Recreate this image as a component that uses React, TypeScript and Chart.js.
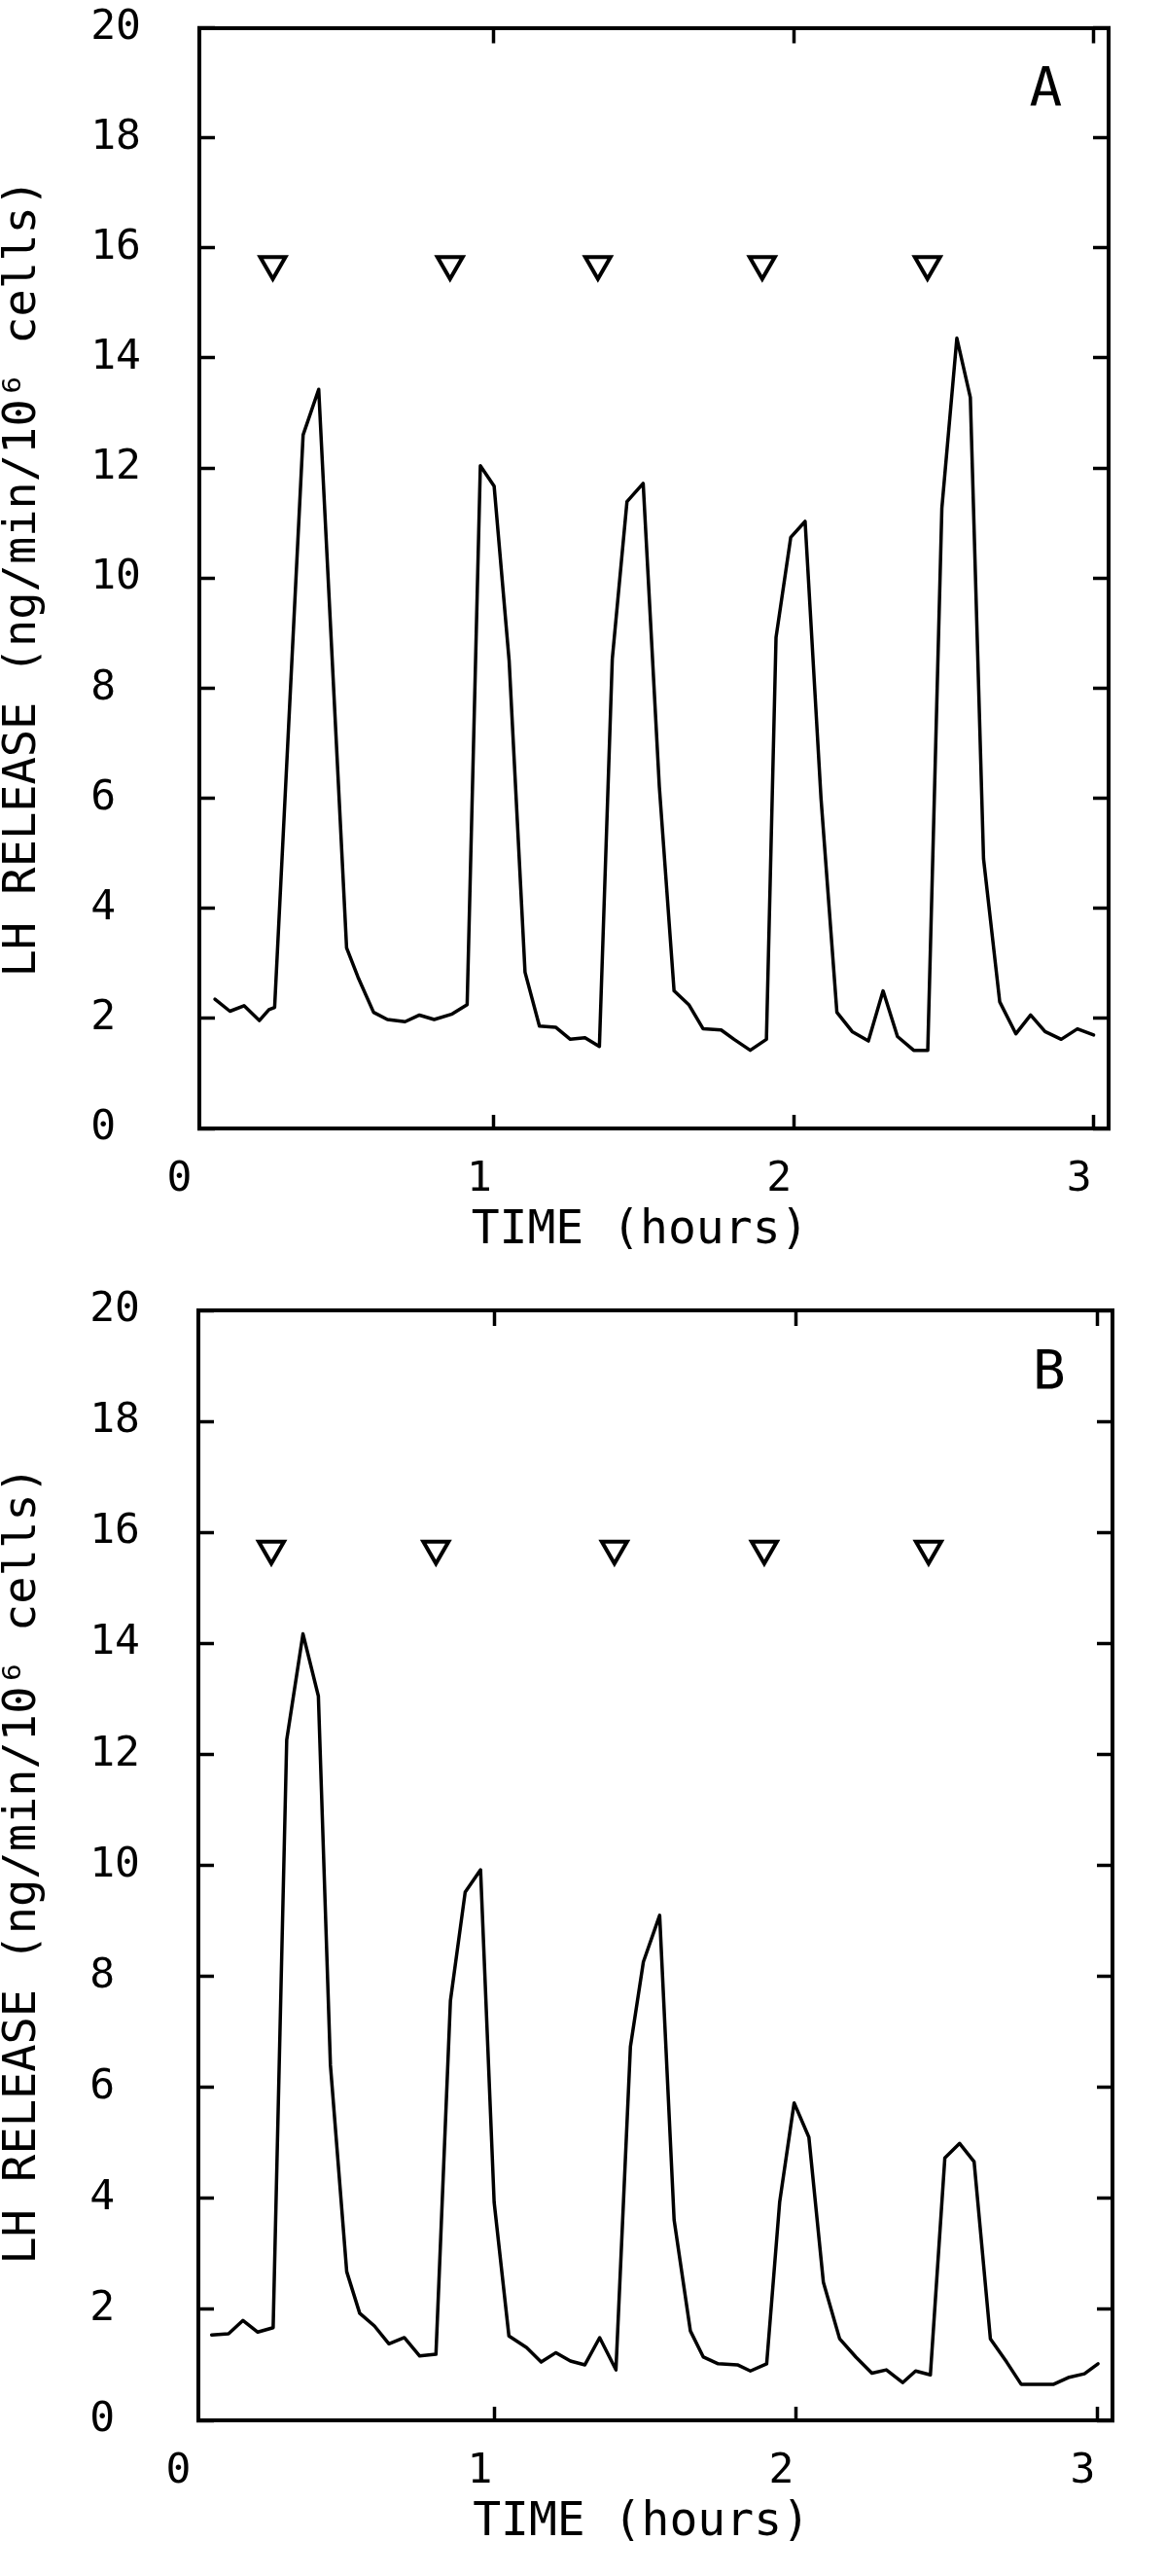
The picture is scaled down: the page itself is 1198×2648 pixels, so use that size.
import React, { useEffect, useRef } from "react";
import { Chart, registerables } from "chart.js";

Chart.register(...registerables);

// ---------- data ----------
const timesA = [
  0.070, 0.120, 0.167, 0.218, 0.250, 0.269, 0.364, 0.416, 0.509, 0.547,
  0.599, 0.645, 0.704, 0.752, 0.801, 0.861, 0.911, 0.955, 1.001, 1.051,
  1.104, 1.152, 1.206, 1.255, 1.304, 1.352, 1.395, 1.444, 1.498, 1.552,
  1.601, 1.650, 1.698, 1.758, 1.801, 1.855, 1.909, 1.941, 1.990, 2.038,
  2.091, 2.144, 2.195, 2.249, 2.298, 2.346, 2.400, 2.447, 2.494, 2.544,
  2.589, 2.633, 2.687, 2.741, 2.790, 2.838, 2.892, 2.946, 3.000,
];
const valuesA = [
  2.35, 2.13, 2.23, 1.96, 2.16, 2.20, 12.60, 13.43, 3.28, 2.75,
  2.11, 1.98, 1.94, 2.06, 1.98, 2.08, 2.25, 12.04, 11.67, 8.50,
  2.84, 1.86, 1.84, 1.62, 1.65, 1.49, 8.53, 11.39, 11.72, 6.20,
  2.50, 2.25, 1.81, 1.79, 1.62, 1.42, 1.62, 8.92, 10.74, 11.03,
  6.00, 2.11, 1.76, 1.59, 2.50, 1.67, 1.42, 1.42, 11.27, 14.36,
  13.28, 4.90, 2.30, 1.72, 2.06, 1.76, 1.62, 1.81, 1.70,
];

const timesB = [
  0.062, 0.118, 0.166, 0.215, 0.266, 0.311, 0.365, 0.416, 0.456, 0.510,
  0.553, 0.602, 0.650, 0.701, 0.752, 0.806, 0.854, 0.903, 0.954, 0.999,
  1.048, 1.107, 1.155, 1.204, 1.252, 1.300, 1.349, 1.403, 1.451, 1.494,
  1.548, 1.596, 1.650, 1.693, 1.742, 1.806, 1.849, 1.903, 1.946, 1.994,
  2.043, 2.091, 2.145, 2.199, 2.252, 2.300, 2.354, 2.397, 2.446, 2.494,
  2.543, 2.591, 2.645, 2.699, 2.747, 2.801, 2.855, 2.903, 2.957, 3.002,
];
const valuesB = [
  1.54, 1.56, 1.80, 1.59, 1.67, 12.26, 14.17, 13.05, 6.40, 2.68,
  1.93, 1.70, 1.38, 1.49, 1.16, 1.19, 7.56, 9.52, 9.92, 3.93,
  1.52, 1.31, 1.05, 1.22, 1.07, 1.00, 1.49, 0.91, 6.73, 8.26,
  9.10, 3.61, 1.61, 1.14, 1.02, 1.00, 0.89, 1.02, 3.93, 5.72,
  5.10, 2.49, 1.47, 1.14, 0.85, 0.91, 0.68, 0.89, 0.82, 4.73,
  4.99, 4.66, 1.47, 1.05, 0.65, 0.65, 0.65, 0.77, 0.84, 1.02,
];

const pulseTimesA = [0.263, 0.854, 1.347, 1.895, 2.446];
const pulseTimesB = [0.260, 0.806, 1.398, 1.895, 2.440];
const pulseLevel = 15.7;

const xTickValues = [0, 1, 2, 3];
const yTickValues = [0, 2, 4, 6, 8, 10, 12, 14, 16, 18, 20];

const X_TITLE = "TIME (hours) ";
const Y_TITLE = "LH RELEASE (ng/min/10⁶ cells)";

// ---------- layout ----------
const FONT = "'DejaVu Sans Mono', monospace";
const PAGE_W = 1198;
const X_MIN = 0.018;
const X_MAX = 3.05;
const Y_MIN = 0;
const Y_MAX = 20;
const LETTER_X = 2.84;
const LETTER_Y = 18.6;

type Geo = {
  top: number;
  height: number;
  plotTop: number;
  plotBottom: number;
  plotLeft: number;
  plotRight: number;
  titleBottomPad: number;
};

const geoA: Geo = { top: 0, height: 1300, plotTop: 28.5, plotBottom: 1160, plotLeft: 205, plotRight: 1140, titleBottomPad: 10 };
const geoB: Geo = { top: 1300, height: 1348, plotTop: 47, plotBottom: 1188, plotLeft: 204, plotRight: 1144, titleBottomPad: 30 };

const panelLetterPlugin = {
  id: "panelLetter",
  afterDatasetsDraw(chart: any, _args: any, opts: any) {
    const { ctx, scales } = chart;
    const px = scales.x.getPixelForValue(opts.x);
    const py = scales.y.getPixelForValue(opts.y);
    ctx.save();
    ctx.font = `56px ${FONT}`;
    ctx.fillStyle = "#000";
    ctx.textAlign = "center";
    ctx.textBaseline = "alphabetic";
    ctx.fillText(opts.text, px, py);
    ctx.restore();
  },
};

const tickColorHideZero = (c: any) => (c.tick && c.tick.value === 0 ? "rgba(0,0,0,0)" : "#000");

// plotter style: y labels are left-aligned in a two-character monospace field
const yLabel = (v: any) => (Number(v) < 10 ? `${v} ` : `${v}`);

const zeroPad = (s: any) => {
  s.paddingTop = 0;
  s.paddingBottom = 0;
  s.paddingLeft = 0;
  s.paddingRight = 0;
};

function Panel({ geo, times, values, pulses, letter }: { geo: Geo; times: number[]; values: number[]; pulses: number[]; letter: string }) {
  const ref = useRef<HTMLCanvasElement>(null);

  useEffect(() => {
    const canvas = ref.current;
    if (!canvas) return;
    const border = { display: true, color: "#000", width: 4 };
    const setXTicks = (s: any) => {
      s.ticks = xTickValues.map((v) => ({ value: v }));
    };
    const setYTicks = (s: any) => {
      s.ticks = yTickValues.map((v) => ({ value: v }));
    };
    const chart = new Chart(canvas, {
      type: "line",
      data: {
        datasets: [
          {
            data: times.map((t, i) => ({ x: t, y: values[i] })),
            xAxisID: "x",
            yAxisID: "y",
            borderColor: "#000",
            borderWidth: 3.5,
            borderJoinStyle: "round",
            borderCapStyle: "round",
            pointRadius: 0,
            tension: 0,
            fill: false,
          } as any,
          {
            data: pulses.map((t) => ({ x: t, y: pulseLevel })),
            xAxisID: "x",
            yAxisID: "y",
            showLine: false,
            pointStyle: "triangle",
            pointRotation: 180,
            pointRadius: 15,
            pointBorderWidth: 4,
            pointBackgroundColor: "#fff",
            pointBorderColor: "#000",
            borderColor: "#000",
          } as any,
        ],
      },
      options: {
        responsive: false,
        animation: false,
        events: [],
        layout: { padding: 0, autoPadding: false },
        plugins: {
          legend: { display: false },
          tooltip: { enabled: false },
          panelLetter: { text: letter, x: LETTER_X, y: LETTER_Y },
        } as any,
        scales: {
          x: {
            type: "linear",
            position: "bottom",
            min: X_MIN,
            max: X_MAX,
            afterBuildTicks: setXTicks,
            afterFit: (s: any) => {
              s.height = geo.height - geo.plotBottom;
              zeroPad(s);
            },
            border,
            grid: { drawOnChartArea: false, drawTicks: true, tickLength: -14, tickWidth: 3.5, tickColor: tickColorHideZero },
            ticks: {
              autoSkip: false,
              maxRotation: 0,
              padding: 45,
              labelOffset: -15,
              color: "#000",
              font: { family: FONT, size: 43, lineHeight: 1 },
            },
            title: {
              display: true,
              text: X_TITLE,
              color: "#000",
              font: { family: FONT, size: 48, lineHeight: 1 },
              padding: { top: 0, bottom: geo.titleBottomPad },
            },
          },
          x2: {
            type: "linear",
            position: "top",
            min: X_MIN,
            max: X_MAX,
            afterBuildTicks: setXTicks,
            afterFit: (s: any) => {
              s.height = geo.plotTop;
              zeroPad(s);
            },
            border,
            grid: { drawOnChartArea: false, drawTicks: true, tickLength: -16, tickWidth: 3.5, tickColor: tickColorHideZero },
            ticks: { display: false },
          },
          y: {
            type: "linear",
            position: "left",
            min: Y_MIN,
            max: Y_MAX,
            afterBuildTicks: setYTicks,
            afterFit: (s: any) => {
              s.width = geo.plotLeft;
              zeroPad(s);
            },
            border,
            grid: { drawOnChartArea: false, drawTicks: true, tickLength: -16, tickWidth: 3.5, tickColor: "#000" },
            ticks: {
              padding: 76,
              color: "#000",
              callback: yLabel,
              font: { family: FONT, size: 43, lineHeight: 1 },
            },
            title: {
              display: true,
              text: Y_TITLE,
              color: "#000",
              font: { family: FONT, size: 47, lineHeight: 1 },
              padding: { top: 0, bottom: 0 },
            },
          },
          y2: {
            type: "linear",
            position: "right",
            min: Y_MIN,
            max: Y_MAX,
            afterBuildTicks: setYTicks,
            afterFit: (s: any) => {
              s.width = PAGE_W - geo.plotRight;
              zeroPad(s);
            },
            border,
            grid: { drawOnChartArea: false, drawTicks: true, tickLength: -16, tickWidth: 3.5, tickColor: "#000" },
            ticks: { display: false },
          },
        } as any,
      },
      plugins: [panelLetterPlugin as any],
    });
    return () => chart.destroy();
  }, []);

  return (
    <canvas
      ref={ref}
      width={PAGE_W}
      height={geo.height}
      style={{ position: "absolute", left: 0, top: geo.top, width: PAGE_W, height: geo.height }}
    />
  );
}

export default function App() {
  return (
    <div style={{ position: "absolute", left: 0, top: 0, width: PAGE_W, height: 2648, background: "#fff", overflow: "hidden" }}>
      <Panel geo={geoA} times={timesA} values={valuesA} pulses={pulseTimesA} letter="A" />
      <Panel geo={geoB} times={timesB} values={valuesB} pulses={pulseTimesB} letter="B" />
    </div>
  );
}
